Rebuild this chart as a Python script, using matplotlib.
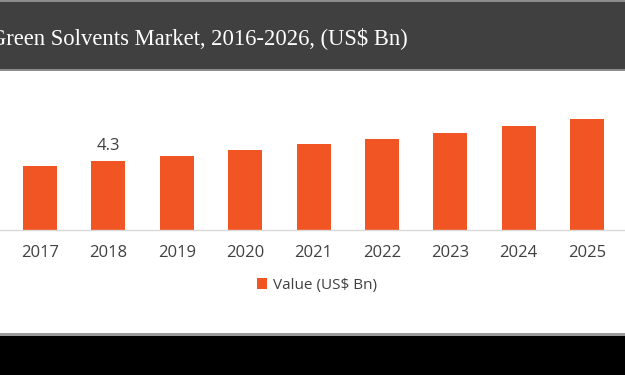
import matplotlib.pyplot as plt
from matplotlib.patches import Rectangle, Patch

years = ['2017', '2018', '2019', '2020', '2021', '2022', '2023', '2024', '2025']
values = [4.0, 4.3, 4.61, 4.97, 5.33, 5.70, 6.08, 6.52, 6.93]
labels = {'2018': '4.3'}
title = 'Green Solvents Market, 2016-2026, (US$ Bn)'
legend_label = 'Value (US$ Bn)'

W, H = 625, 375
bar_color = '#F05523'
text_color = '#404040'

fig = plt.figure(figsize=(W / 100, H / 100), dpi=100)
fig.patch.set_facecolor('white')

def fy(px):
    # pixel row from top -> figure fraction
    return 1 - px / H

# dark title band with grey edges
fig.add_artist(Rectangle((0, fy(71)), 1, fy(0) - fy(71), transform=fig.transFigure,
                         facecolor='#8c8c8c', edgecolor='none', zorder=0))
fig.add_artist(Rectangle((0, fy(69)), 1, fy(1.5) - fy(69), transform=fig.transFigure,
                         facecolor='#404040', edgecolor='none', zorder=0))
fig.text(408 / W, fy(38), title, ha='right', va='center', color='white',
         fontsize=16.3, family='Liberation Serif')

# black strip at the bottom
fig.add_artist(Rectangle((0, fy(336)), 1, fy(333) - fy(336), transform=fig.transFigure,
                         facecolor='#9a9a9a', edgecolor='none', zorder=0))
fig.add_artist(Rectangle((0, 0), 1, fy(336), transform=fig.transFigure,
                         facecolor='black', edgecolor='none', zorder=0))

# axes: baseline at 229.5 px, 15.95 px per unit
ymax = 7.5
px_per_unit = 15.95
base = 229.5
ax = fig.add_axes([0, fy(base), 1, ymax * px_per_unit / H])
ax.set_facecolor('none')

x = list(range(len(years)))
spacing = 68.375
ax.bar(x, values, width=34 / spacing, color=bar_color, zorder=2)
ax.set_xlim(-40 / spacing, (W - 40) / spacing)
ax.set_ylim(0, ymax)

for i, yr in enumerate(years):
    if yr in labels:
        ax.text(i, values[i] + 0.45, labels[yr], ha='center', va='bottom',
                fontsize=12, color=text_color, family='Open Sans')

ax.set_xticks(x)
ax.set_xticklabels(years, fontsize=12, color=text_color, family='Open Sans')
ax.tick_params(axis='x', length=0, pad=11)
ax.set_yticks([])
for s in ['top', 'right', 'left']:
    ax.spines[s].set_visible(False)
ax.spines['bottom'].set_color('#d9d9d9')
ax.spines['bottom'].set_linewidth(1)

handle = Patch(facecolor=bar_color, edgecolor='none')
leg = fig.legend([handle], [legend_label], loc='center', bbox_to_anchor=(317 / W, fy(285)),
                 frameon=False, handlelength=0.7, handleheight=0.7, handletextpad=0.4,
                 prop={'family': 'Open Sans', 'size': 11})
for t in leg.get_texts():
    t.set_color(text_color)

plt.savefig('out.png', dpi=100)
